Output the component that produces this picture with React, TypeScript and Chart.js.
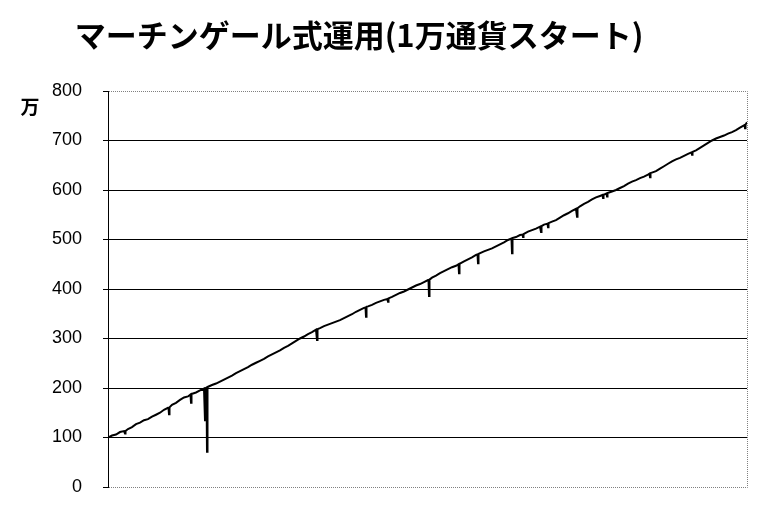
import React, { useEffect, useRef } from "react";
import { Chart, registerables } from "chart.js";

Chart.register(...registerables);

const chartTitle = "マーチンゲール式運用(1万通貨スタート)";
const unitLabel = "万";
const yMin = 0;
const yMax = 800;
const yStep = 100;

// elapsed days (x) and account balance in 万 (y)
const days = [
  0, 8, 16, 24, 32, 33, 34, 35, 40, 48, 56, 64, 72, 80, 88, 96, 104, 112, 120, 121, 122, 123,
  128, 136, 144, 152, 160, 165, 166, 167, 176, 184, 192, 193, 194, 195, 197, 198, 199, 208,
  216, 224, 232, 240, 248, 256, 264, 272, 280, 288, 296, 304, 312, 320, 328, 336, 344, 352,
  360, 368, 376, 384, 392, 400, 408, 416, 417, 418, 419, 424, 432, 440, 448, 456, 464, 472,
  480, 488, 496, 504, 512, 515, 516, 517, 520, 528, 536, 544, 552, 559, 560, 561, 568, 576,
  584, 592, 600, 608, 616, 624, 632, 640, 641, 642, 643, 648, 656, 664, 672, 680, 688, 696,
  701, 702, 703, 712, 720, 728, 736, 739, 740, 741, 752, 760, 768, 776, 784, 792, 800, 807,
  808, 809, 816, 824, 829, 830, 831, 840, 848, 856, 864, 865, 866, 867, 872, 879, 880, 881,
  888, 896, 904, 912, 920, 928, 936, 937, 938, 939, 944, 952, 960, 968, 976, 984, 989, 990,
  991, 997, 998, 999, 1008, 1016, 1024, 1032, 1040, 1048, 1056, 1064, 1072, 1080, 1083, 1084,
  1085, 1096, 1104, 1112, 1120, 1128, 1136, 1144, 1152, 1160, 1167, 1168, 1169, 1176, 1184,
  1192, 1200, 1208, 1216, 1224, 1232, 1240, 1248, 1256, 1264, 1273, 1274, 1275, 1278,
];
const balance = [
  100, 104, 106, 111, 113, 113, 108, 113, 117, 121, 127, 130, 135, 137, 142, 146, 150, 156, 160, 161, 147, 161,
  166, 170, 176, 181, 183, 187, 170, 188, 191, 195, 199, 199, 135, 200, 201, 71, 202, 206,
  209, 213, 217, 221, 225, 230, 234, 238, 242, 247, 251, 255, 259, 264, 268, 272, 276, 281,
  285, 290, 295, 300, 304, 309, 313, 318, 318, 297, 319, 321, 325, 328, 331, 334, 337, 341,
  345, 349, 354, 358, 362, 363, 344, 364, 365, 368, 372, 375, 378, 380, 374, 381, 384, 388,
  392, 395, 399, 403, 407, 410, 414, 418, 419, 386, 419, 423, 427, 432, 436, 440, 444, 447,
  450, 432, 451, 456, 460, 464, 469, 470, 452, 471, 476, 479, 482, 486, 490, 494, 499, 502,
  472, 503, 505, 509, 510, 505, 511, 516, 519, 522, 526, 526, 515, 527, 530, 532, 525, 533,
  536, 539, 544, 549, 553, 558, 562, 562, 546, 563, 567, 572, 576, 581, 585, 588, 590, 584,
  590, 593, 587, 594, 597, 600, 604, 608, 613, 617, 620, 624, 627, 631, 633, 626,
  634, 638, 643, 648, 653, 658, 662, 665, 669, 673, 676, 671, 677, 680, 685,
  690, 695, 700, 704, 707, 710, 714, 717, 721, 726, 731, 725, 732, 737,
];

const frameAndText = {
  id: "frameAndText",
  beforeDatasetsDraw(chart: any) {
    const { ctx, chartArea } = chart;
    const { left, right, top, bottom } = chartArea;
    ctx.save();
    ctx.strokeStyle = "#808080";
    ctx.lineWidth = 1;
    ctx.setLineDash([1, 1]);
    ctx.beginPath();
    ctx.moveTo(left + 1, Math.floor(top) + 0.5);
    ctx.lineTo(Math.floor(right) + 0.5, Math.floor(top) + 0.5);
    ctx.lineTo(Math.floor(right) + 0.5, Math.floor(bottom) + 0.5);
    ctx.lineTo(left + 1, Math.floor(bottom) + 0.5);
    ctx.stroke();
    ctx.restore();
  },
  afterDraw(chart: any) {
    const { ctx } = chart;
    ctx.save();
    ctx.fillStyle = "#000";
    ctx.textAlign = "center";
    ctx.textBaseline = "middle";
    ctx.font = "bold 31px 'Noto Sans CJK JP'";
    ctx.fillText(chartTitle, 359, 35);
    ctx.font = "bold 19px 'Noto Sans CJK JP'";
    ctx.fillText(unitLabel, 30, 107);
    ctx.restore();
  },
};

const App = () => {
  const canvasRef = useRef<HTMLCanvasElement | null>(null);

  useEffect(() => {
    document.body.style.margin = "0";
    const ctx = canvasRef.current?.getContext("2d");
    if (!ctx) return;

    const chart = new Chart(ctx, {
      type: "line",
      data: {
        datasets: [
          {
            data: days.map((d, i) => ({ x: d, y: balance[i] })),
            borderColor: "#000",
            borderWidth: 2,
            pointRadius: 0,
            tension: 0,
            fill: false,
          },
        ],
      },
      options: {
        animation: false,
        responsive: false,
        devicePixelRatio: 1,
        layout: { padding: { top: 91, right: 13, bottom: 29, left: 0 } },
        plugins: {
          legend: { display: false },
          tooltip: { enabled: false },
          title: { display: false },
        },
        scales: {
          x: {
            type: "linear",
            display: false,
            min: days[0],
            max: days[days.length - 1],
          },
          y: {
            min: yMin,
            max: yMax,
            afterFit: (scale: any) => {
              scale.width = 108;
              scale.paddingTop = 0;
              scale.paddingBottom = 0;
            },
            ticks: {
              stepSize: yStep,
              padding: 21,
              color: "#000",
              font: { family: "'Liberation Sans', Arial, sans-serif", size: 18 },
            },
            grid: {
              color: (c: any) =>
                c.tick && (c.tick.value === yMin || c.tick.value === yMax) ? "rgba(0,0,0,0)" : "#000",
              lineWidth: 1,
              tickLength: 5,
              tickColor: "#000",
            },
            border: { display: true, color: "#000", width: 1 },
          },
        },
      },
      plugins: [frameAndText],
    });

    return () => {
      chart.destroy();
    };
  }, []);

  return (
    <div style={{ width: 760, height: 516, background: "#fff" }}>
      <canvas ref={canvasRef} width={760} height={516} style={{ display: "block" }} />
    </div>
  );
};

export default App;
